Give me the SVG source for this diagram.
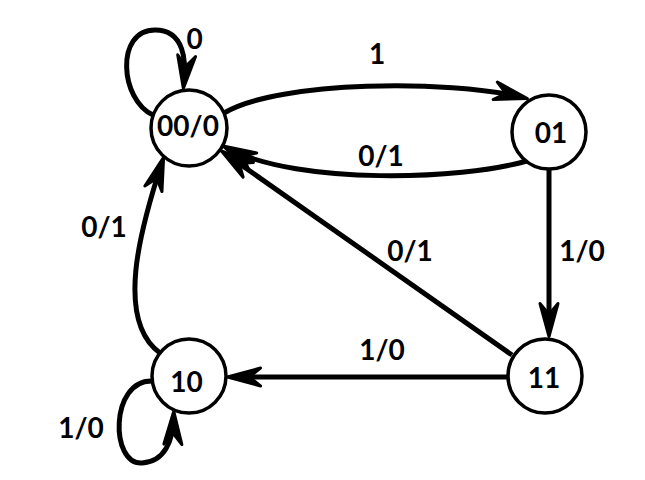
<svg xmlns="http://www.w3.org/2000/svg" width="645" height="480" viewBox="0 0 645 480">
  <style>
    .state { fill: #ffffff; stroke: #000000; stroke-width: 3.5; }
    .edge { fill: none; stroke: #000000; stroke-width: 5; marker-end: url(#head); }
    text { font-family: Lato, "Open Sans", "Liberation Sans", sans-serif; font-weight: bold; font-size: 28px; fill: #000000; text-anchor: middle; }
  </style>
  <defs>
    <!-- notched arrowhead with rounded barbs; tip sits 8px past the path end -->
    <marker id="head" markerUnits="userSpaceOnUse" viewBox="-2 -2 40 24" refX="27.5" refY="10" markerWidth="40" markerHeight="24" orient="auto">
      <path d="M1,1 L34,10 L1,19 L12,10 Z" fill="#000000" stroke="#000000" stroke-width="3" stroke-linejoin="round"/>
    </marker>
  </defs>

  <rect width="645" height="480" fill="#ffffff"/>

  <g id="connectors">
    <!-- 00/0 self loop, input 0 -->
    <path class="edge" d="M153,115 C120,100 115,30 155,30 C185,30 186,62 184,82"/>
    <!-- 00/0 -> 01 -->
    <path class="edge" d="M224,113 C280,80 450,80 521,97"/>
    <!-- 01 -> 00/0 -->
    <path class="edge" d="M527,161 C460,180 300,185 229,149"/>
    <!-- 11 -> 00/0 -->
    <path class="edge" d="M512,355 L226.6,154.6"/>
    <!-- 01 -> 11 -->
    <path class="edge" d="M549,170 L549,330"/>
    <!-- 11 -> 10 -->
    <path class="edge" d="M508,377 L234,377"/>
    <!-- 10 -> 00/0 -->
    <path class="edge" d="M160,353 C115,320 140,230 161.6,163.6"/>
    <!-- 10 self loop, input 1 -->
    <path class="edge" d="M152,381 C110,380 110,465 142,463 C165,462 173,440 173.6,417.8"/>

    <text x="194.5" y="49">0</text>
    <text x="377" y="64">1</text>
    <text x="381" y="166">0/1</text>
    <text x="410" y="261">0/1</text>
    <text x="582" y="261">1/0</text>
    <text x="104" y="237">0/1</text>
    <text x="382" y="360">1/0</text>
    <text x="81" y="438">1/0</text>
  </g>

  <g id="s00">
    <circle class="state" cx="189" cy="128" r="38"/>
    <text x="188" y="136">00/0</text>
  </g>
  <g id="s01">
    <circle class="state" cx="549" cy="132" r="37"/>
    <text x="551" y="143">01</text>
  </g>
  <g id="s10">
    <circle class="state" cx="189" cy="376" r="37"/>
    <text x="186.5" y="392">10</text>
  </g>
  <g id="s11">
    <circle class="state" cx="545" cy="376" r="37"/>
    <text x="544" y="388">11</text>
  </g>
</svg>
